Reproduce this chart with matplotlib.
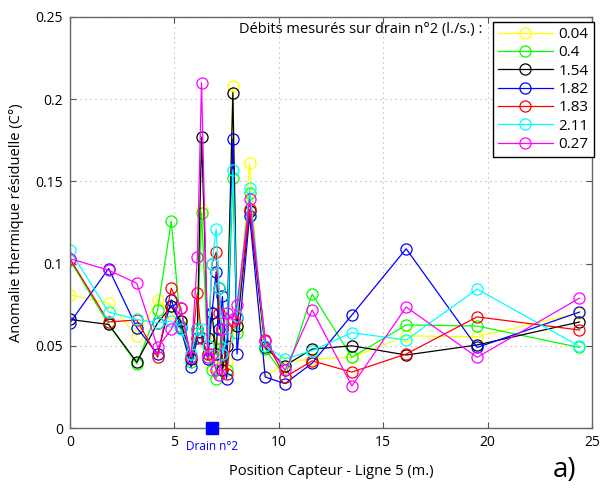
import matplotlib
matplotlib.use("Agg")
import matplotlib.pyplot as plt
from matplotlib.ticker import FixedLocator, FixedFormatter

plt.rcParams['font.family'] = ['Open Sans', 'DejaVu Sans']

# Sensor positions (m)
positions = [0, 1.85, 3.2, 4.2, 4.85, 5.3, 5.8, 6.1, 6.3, 6.6, 6.8, 7.0, 7.15,
             7.3, 7.5, 7.8, 8.0, 8.6, 9.35, 10.3, 11.6, 13.5, 16.1, 19.5, 24.4]

series_labels = ["0.04", "0.4", "1.54", "1.82", "1.83", "2.11", "0.27"]
series_colors = ["#ffff00", "#00ff00", "#000000", "#0000ff", "#ff0000", "#00ffff", "#ff00ff"]

y_004 = [0.081, 0.076, 0.056, 0.078, 0.070, 0.065, 0.045, 0.060, 0.133, 0.050, 0.038, 0.055, 0.045,
         0.062, 0.040, 0.208, 0.060, 0.161, 0.031, 0.040, 0.042, 0.043, 0.056, 0.0555, 0.070]
y_04 = [0.102, 0.063, 0.039, 0.072, 0.126, 0.062, 0.040, 0.058, 0.131, 0.045, 0.035, 0.030, 0.048,
        0.060, 0.035, 0.152, 0.058, 0.143, 0.048, 0.031, 0.0815, 0.043, 0.0627, 0.062, 0.049]
y_154 = [0.066, 0.063, 0.040, 0.064, 0.074, 0.065, 0.042, 0.060, 0.177, 0.055, 0.070, 0.045, 0.085,
         0.035, 0.050, 0.204, 0.062, 0.132, 0.049, 0.038, 0.048, 0.050, 0.0444, 0.0505, 0.0645]
y_182 = [0.064, 0.097, 0.061, 0.045, 0.078, 0.061, 0.037, 0.055, 0.055, 0.042, 0.070, 0.095, 0.060,
         0.080, 0.030, 0.176, 0.045, 0.129, 0.031, 0.027, 0.0395, 0.0687, 0.109, 0.049, 0.0705]
y_183 = [0.103, 0.0645, 0.0657, 0.043, 0.085, 0.073, 0.043, 0.082, 0.055, 0.045, 0.100, 0.107, 0.070,
         0.060, 0.033, 0.065, 0.067, 0.133, 0.0535, 0.031, 0.0408, 0.034, 0.045, 0.0676, 0.0596]
y_211 = [0.108, 0.0705, 0.066, 0.064, 0.065, 0.060, 0.045, 0.060, 0.060, 0.050, 0.100, 0.121, 0.085,
         0.045, 0.055, 0.157, 0.068, 0.146, 0.050, 0.042, 0.047, 0.058, 0.0535, 0.0845, 0.0497]
y_027 = [0.103, 0.096, 0.088, 0.049, 0.060, 0.073, 0.043, 0.104, 0.210, 0.043, 0.045, 0.035, 0.032,
         0.060, 0.070, 0.066, 0.075, 0.139, 0.053, 0.035, 0.0718, 0.0256, 0.0736, 0.043, 0.079]

series_values = [y_004, y_04, y_154, y_182, y_183, y_211, y_027]

drain_position = 6.8
drain_label = "Drain n°2"

x_ticks = [0, 5, 10, 15, 20, 25]
y_ticks = [0, 0.05, 0.1, 0.15, 0.2, 0.25]
y_tick_labels = ["0", "0.05", "0.1", "0.15", "0.2", "0.25"]

fig = plt.figure(figsize=(6.01, 4.95), dpi=100)
ax = fig.add_axes([70/601, 1-428/495, 522/601, 411/495])

for lab, col, vals in zip(series_labels, series_colors, series_values):
    ax.plot(positions, vals, color=col, lw=0.9, marker='o', ms=8,
            mfc='none', mec=col, mew=0.9, label=lab)

ax.plot([drain_position], [0], marker='s', ms=9, color='#0000ff', clip_on=False, zorder=10, ls='none')
ax.text(drain_position, -0.0075, drain_label, color='#0000ff', ha='center', va='top', fontsize=8.5)

ax.set_xlim(0, 25)
ax.set_ylim(0, 0.25)
ax.xaxis.set_major_locator(FixedLocator(x_ticks))
ax.yaxis.set_major_locator(FixedLocator(y_ticks))
ax.yaxis.set_major_formatter(FixedFormatter(y_tick_labels))
ax.tick_params(direction='in', top=True, right=True, labelsize=10, length=4, color='#555555', pad=5)
ax.grid(True, linestyle=(0, (1, 3.5)), color='#aaaaaa', lw=0.8)
for s in ax.spines.values():
    s.set_color('#666666')
    s.set_linewidth(1.0)

ax.set_xlabel("Position Capteur - Ligne 5 (m.)", fontsize=10.5, labelpad=10)
ax.set_ylabel("Anomalie thermique résiduelle (C°)", fontsize=10.5, labelpad=8)

leg = ax.legend(loc='upper right', bbox_to_anchor=(1.003, 0.987), fontsize=11, frameon=True,
                fancybox=False, edgecolor='black', framealpha=1, handlelength=3.6,
                borderpad=0.3, labelspacing=0.22, handletextpad=0.4, borderaxespad=0)
leg.get_frame().set_linewidth(1.0)

fig.text(483/601, 1-30/495, "Débits mesurés sur drain n°2 (l./s.) :", ha='right', va='center', fontsize=10.5)
fig.text(565/601, 1-470/495, "a)", ha='center', va='center', fontsize=20)

fig.savefig("out.png", dpi=100)
